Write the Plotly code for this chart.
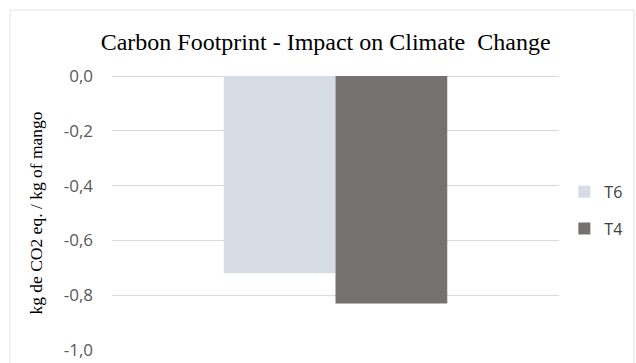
import plotly.graph_objects as go

# Carbon footprint per treatment (kg CO2 eq. per kg of mango)
categories = [""]
series_names = ["T6", "T4"]
series_values = [[-0.72], [-0.83]]
series_colors = ["#d6dce4", "#767171"]
tick_values = [0.0, -0.2, -0.4, -0.6, -0.8, -1.0]
tick_labels = ["0,0", "-0,2", "-0,4", "-0,6", "-0,8", "-1,0"]

fig = go.Figure()
for name, vals, color in zip(series_names, series_values, series_colors):
    fig.add_trace(go.Bar(x=categories, y=vals, name=name, legendgroup=name,
                         marker_color=color, marker_line_width=0))

fig.update_layout(
    width=636, height=363,
    margin=dict(l=112, r=77, t=76, b=13, autoexpand=False),
    paper_bgcolor="white", plot_bgcolor="white",
    barmode="group", bargap=0.5, bargroupgap=0,
    title=dict(text="Carbon Footprint - Impact on Climate  Change",
               x=0.512, xanchor="center", y=0.885, yanchor="middle",
               font=dict(family="Liberation Serif", size=24, color="#000000")),
    legend=dict(x=1.012, y=0.51, xanchor="left", yanchor="middle",
                traceorder="grouped", tracegroupgap=13,
                font=dict(family="Open Sans", size=16, color="#404040"),
                itemwidth=30),
    showlegend=True,
    font=dict(family="Open Sans"),
)
fig.update_xaxes(showticklabels=False, showgrid=False, zeroline=False, showline=False)
fig.update_yaxes(range=[-1.0, 0.0], tickvals=tick_values, ticktext=tick_labels,
                 showgrid=True, gridcolor="#d9d9d9", gridwidth=1,
                 zeroline=True, zerolinecolor="#d9d9d9", zerolinewidth=1,
                 showline=False, ticks="", ticklabelstandoff=18,
                 tickfont=dict(family="Open Sans", size=17, color="#595959"),
                 title=dict(text="kg de CO2 eq. / kg of mango", standoff=16,
                            font=dict(family="Liberation Serif", size=17.5, color="#000000")))

# outer chart frame
fig.add_shape(type="rect", xref="paper", yref="paper",
              x0=-102 / 447, x1=522 / 447, y0=-0.2, y1=(76 - 10) / 274 + 1,
              line=dict(color="#e0e0e0", width=1), layer="below")

fig.write_html("out.html")
